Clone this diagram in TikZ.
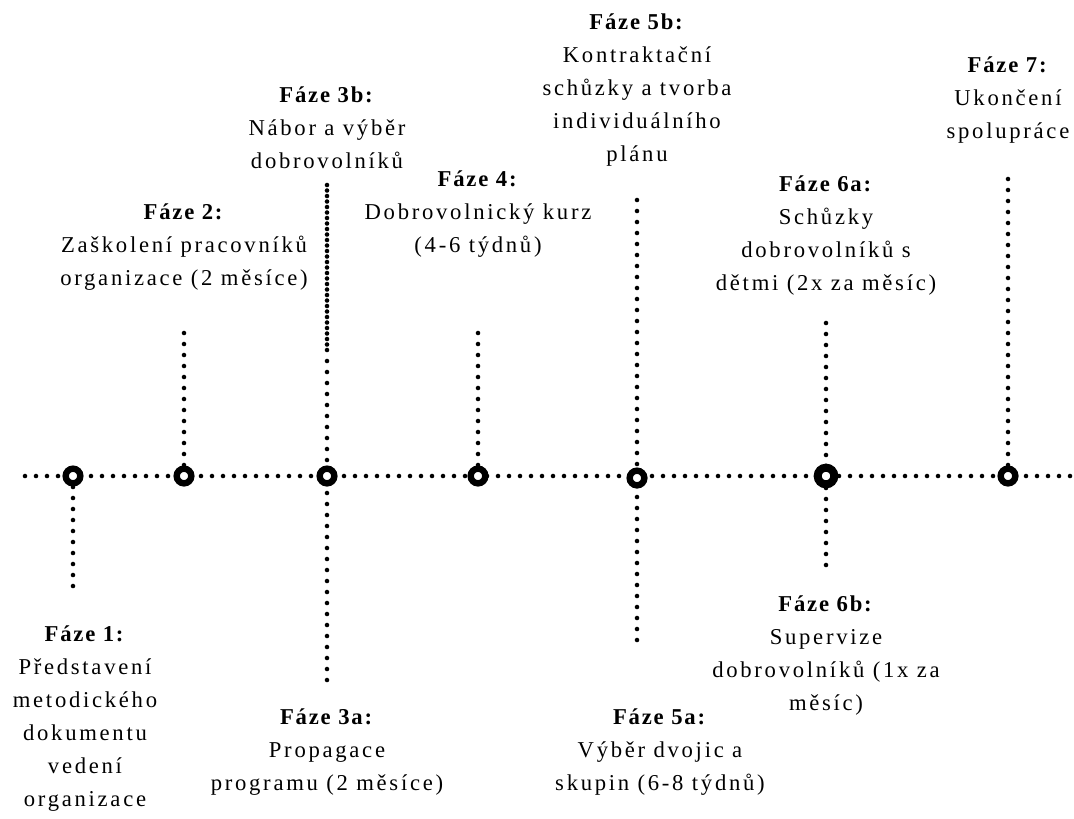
\documentclass[tikz,border=0pt]{standalone}
\usepackage{fontspec}
\setmainfont{Liberation Serif}[LetterSpace=12, BoldFeatures={LetterSpace=8}]
\begin{document}
\begin{tikzpicture}[x=0.75pt,y=-0.75pt,
  dotline/.style={line width=3.4pt, line cap=round, dash pattern=on 0pt off 8.25pt},
  phase/.style={circle, draw, fill=white, line width=4.8pt, minimum size=11pt, inner sep=0pt},
  bigphase/.style={phase, line width=6pt, minimum size=12.5pt},
  txt/.style={align=center, font=\fontsize{17}{24.75}\selectfont, anchor=base, inner sep=0pt}]
\useasboundingbox (0,0) rectangle (1074,818);
% axis
\coordinate (hl) at (25,476);
\coordinate (hr) at (1074,476);
\draw[dotline] (hl) -- (hr);
% line end points
\coordinate (e1) at (73,595);
\coordinate (e2) at (184,323);
\coordinate (e3t) at (327,185);
\coordinate (e3m) at (327,190.5);
\coordinate (e3x) at (327,350);
\coordinate (e3b) at (327,680);
\coordinate (e4) at (478,323);
\coordinate (e5t) at (637,200);
\coordinate (e5b) at (637,650);
\coordinate (e6t) at (826,323);
\coordinate (e6b) at (826,565);
\coordinate (e7) at (1008,175);
\draw[dotline] (73,476) -- (e1);
\draw[dotline] (184,476) -- (e2);
\draw[dotline] (e3t) -- (e3b);
\draw[dotline] (e3m) -- (e3x);
\draw[dotline] (478,476) -- (e4);
\draw[dotline] (e5t) -- (e5b);
\draw[dotline] (e6t) -- (e6b);
\draw[dotline] (1008,476) -- (e7);
% phase markers
\node[phase] (c1) at (73,476) {};
\node[phase] (c2) at (184,476) {};
\node[phase] (c3) at (327,476) {};
\node[phase] (c4) at (478,476) {};
\node[phase] (c5) at (637,478) {};
\node[bigphase] (c6) at (826,476) {};
\node[phase] (c7) at (1008,476) {};
% labels (anchor = baseline of last line)
\node[txt] (t1) at (85,806) {\textbf{Fáze 1:}\\Představení\\metodického\\dokumentu\\vedení\\organizace};
\node[txt] (t2) at (184,285) {\textbf{Fáze 2:}\\Zaškolení pracovníků\\organizace (2 měsíce)};
\node[txt] (t3b) at (327,168) {\textbf{Fáze 3b:}\\Nábor a výběr\\dobrovolníků};
\node[txt] (t4) at (478,252) {\textbf{Fáze 4:}\\Dobrovolnický kurz\\(4-6 týdnů)};
\node[txt] (t5b) at (637,161) {\textbf{Fáze 5b:}\\Kontraktační\\schůzky a tvorba\\individuálního\\plánu};
\node[txt] (t6a) at (826,290) {\textbf{Fáze 6a:}\\Schůzky\\dobrovolníků s\\dětmi (2x za měsíc)};
\node[txt] (t7) at (1008,138) {\textbf{Fáze 7:}\\Ukončení\\spolupráce};
\node[txt] (t3a) at (327,790) {\textbf{Fáze 3a:}\\Propagace\\programu (2 měsíce)};
\node[txt] (t5a) at (660,790) {\textbf{Fáze 5a:}\\Výběr dvojic a\\skupin (6-8 týdnů)};
\node[txt] (t6b) at (826,710) {\textbf{Fáze 6b:}\\Supervize\\dobrovolníků (1x za\\měsíc)};
\end{tikzpicture}
\end{document}
